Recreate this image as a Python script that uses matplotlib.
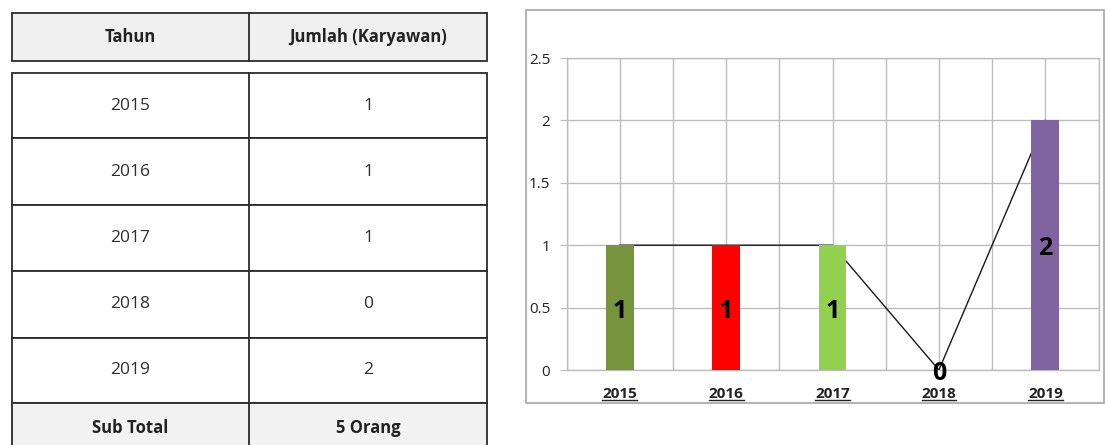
import numpy as np
import matplotlib
matplotlib.use('Agg')
import matplotlib.pyplot as plt
from matplotlib.patches import Rectangle
from matplotlib.lines import Line2D

# data
tahun = ['2015', '2016', '2017', '2018', '2019']
jumlah = [1, 1, 1, 0, 2]
header = ['Tahun', 'Jumlah (Karyawan)']
total_label = ['Sub Total', '5 Orang']
bar_colors = ['#77933C', '#FF0000', '#92D050', '#4F81BD', '#8064A2']

W, H = 1105, 445
plt.rcParams['font.family'] = ['Open Sans', 'DejaVu Sans']
fig = plt.figure(figsize=(W / 100, H / 100), dpi=100)

# ---- tabel (koordinat piksel)
tb = fig.add_axes([0, 0, 1, 1])
tb.set_xlim(0, W)
tb.set_ylim(H, 0)
tb.axis('off')

x0, xm, x1 = 12, 249, 487
lc = '#2b2b2b'
lw = 1.3

# header
tb.add_patch(Rectangle((x0, 13), x1 - x0, 61 - 13, fc='#f0f0f0', ec=lc, lw=lw))
tb.plot([xm, xm], [13, 61], color=lc, lw=lw)
tb.text((x0 + xm) / 2, 37, header[0], ha='center', va='center', fontsize=12,
        fontweight='bold', color='#222222')
tb.text((xm + x1) / 2, 37, header[1], ha='center', va='center', fontsize=12,
        fontweight='bold', color='#222222')

# isi
row_y = [73, 138, 205, 271, 338, 403]
for i in range(len(tahun)):
    ya, yb = row_y[i], row_y[i + 1]
    tb.add_patch(Rectangle((x0, ya), x1 - x0, yb - ya, fc='white', ec=lc, lw=lw))
    tb.plot([xm, xm], [ya, yb], color=lc, lw=lw)
    yc = (ya + yb) / 2
    tb.text((x0 + xm) / 2, yc, tahun[i], ha='center', va='center', fontsize=12.5,
            color='#2e2e2e')
    tb.text((xm + x1) / 2, yc, str(jumlah[i]), ha='center', va='center', fontsize=12.5,
            color='#2e2e2e')

# sub total
tb.add_patch(Rectangle((x0, 403), x1 - x0, 80, fc='#f2f2f2', ec=lc, lw=lw))
tb.plot([xm, xm], [403, 483], color=lc, lw=lw)
tb.text((x0 + xm) / 2, 428, total_label[0], ha='center', va='center', fontsize=12,
        fontweight='bold', color='#222222')
tb.text((xm + x1) / 2, 428, total_label[1], ha='center', va='center', fontsize=12,
        fontweight='bold', color='#222222')

# bingkai grafik
tb.add_patch(Rectangle((526, 10), 578, 393, fc='white', ec='#a6a6a6', lw=1.2))

# ---- grafik
ax = fig.add_axes([566.5 / W, 1 - 370 / H, 532 / W, 312 / H])
x = np.arange(len(tahun))
gc = '#bdbdbd'

ax.bar(x, jumlah, width=0.26, color=bar_colors, zorder=3)
ax.plot(x, jumlah, color='#1a1a1a', lw=1.0, zorder=2)

ax.set_xlim(-0.5, len(tahun) - 0.5)
ax.set_ylim(0, 2.5)
ax.set_yticks([0, 0.5, 1, 1.5, 2, 2.5])
ax.set_yticklabels(['0', '0.5', '1', '1.5', '2', '2.5'])
ax.set_xticks(x)
ax.set_xticklabels([])
ax.set_xticks(np.arange(-0.5, len(tahun), 1.0), minor=True)
ax.tick_params(axis='x', which='both', length=0)
ax.tick_params(axis='y', length=4.7, color=gc, pad=7, labelsize=11, labelcolor='#222222')
ax.grid(True, which='both', color=gc, lw=1.0, zorder=0)
ax.set_axisbelow(True)
for s in ax.spines.values():
    s.set_color(gc)
    s.set_linewidth(1.0)

# label nilai
for xi, v in zip(x, jumlah):
    ax.annotate(str(v), xy=(xi, v / 2), xytext=(0, -2.5), textcoords='offset points',
                ha='center', va='center', fontsize=18, fontweight='bold',
                color='black', zorder=4)

# label sumbu x (tebal, garis bawah)
xlabs = []
for xi, t in zip(x, tahun):
    xlabs.append(ax.annotate(t, xy=(xi, 0), xycoords=('data', 'axes fraction'),
                             xytext=(0, -17), textcoords='offset points',
                             ha='center', va='center', fontsize=11,
                             fontweight='bold', color='#222222'))

fig.canvas.draw()
r = fig.canvas.get_renderer()
for t in xlabs:
    bb = t.get_window_extent(r)
    yy = (bb.y0 + 0.5) / H
    fig.add_artist(Line2D([bb.x0 / W, bb.x1 / W], [yy, yy], color='#222222', lw=1.0))

fig.savefig('out.png', dpi=100)
